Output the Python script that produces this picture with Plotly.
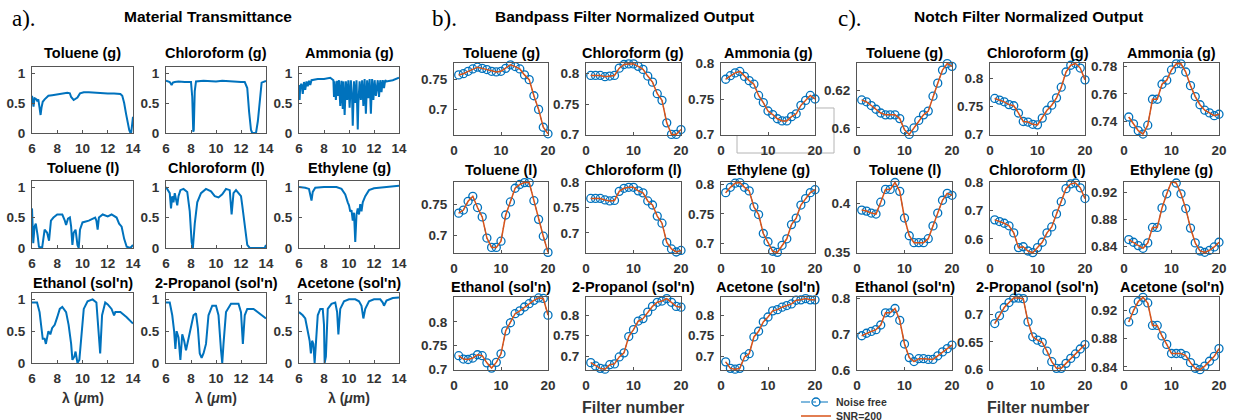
import plotly.graph_objects as go

W, H = 1233, 420

# ---------------- Panel a: transmittance spectra ----------------
wl_toluene_g = [6.0, 6.05, 6.12, 6.2, 6.3, 6.4, 6.5, 6.6, 6.68, 6.75, 6.85, 7.0, 7.3, 7.6, 8.0, 8.4, 8.8, 9.0, 9.1, 9.3,
                9.45, 9.6, 9.8, 10.1, 10.5, 11.0, 11.5, 12.0, 12.5, 13.0, 13.15, 13.3, 13.45, 13.6, 13.7, 13.8, 13.85, 13.92, 14.0]
T_toluene_g = [0.62, 0.55, 0.44, 0.58, 0.57, 0.54, 0.56, 0.42, 0.30, 0.42, 0.52, 0.56, 0.62, 0.63, 0.64, 0.65, 0.67, 0.66, 0.60, 0.55,
               0.57, 0.59, 0.66, 0.68, 0.68, 0.67, 0.66, 0.66, 0.66, 0.65, 0.62, 0.50, 0.32, 0.15, 0.05, 0.0, 0.0, 0.12, 0.27]

wl_chloroform_g = [6.0, 6.3, 6.45, 6.55, 6.7, 7.0, 7.5, 8.0, 8.1, 8.18, 8.22, 8.3, 8.4, 9.0, 9.5, 10.0, 10.5, 11.0, 11.5, 12.0,
                   12.3, 12.5, 12.65, 12.8, 12.9, 13.2, 13.35, 13.5, 13.65, 14.0]
T_chloroform_g = [0.87, 0.85, 0.80, 0.84, 0.85, 0.86, 0.85, 0.85, 0.60, 0.02, 0.05, 0.70, 0.86, 0.87, 0.86, 0.86, 0.87, 0.86, 0.86, 0.85,
                  0.85, 0.75, 0.35, 0.05, 0.0, 0.0, 0.20, 0.60, 0.84, 0.87]

wl_ammonia_g = [6.0, 6.05, 6.1, 6.2, 6.3, 6.4, 6.5, 6.6, 6.7, 6.8, 6.9, 7.0, 7.5, 8.0, 8.5, 8.75, 8.8, 8.85, 8.95, 9.05,
                9.1, 9.2, 9.3, 9.4, 9.5, 9.55, 9.65, 9.75, 9.85, 9.95, 10.05, 10.15, 10.25, 10.3, 10.4, 10.5, 10.6, 10.7, 10.75, 10.85,
                10.95, 11.05, 11.15, 11.25, 11.35, 11.45, 11.55, 11.65, 11.75, 11.85, 11.95, 12.05, 12.15, 12.3, 12.4, 12.5, 12.6, 12.7,
                12.8, 12.9, 13.0, 13.5, 14.0]
T_ammonia_g = [0.80, 0.55, 0.78, 0.82, 0.65, 0.85, 0.72, 0.86, 0.78, 0.87, 0.80, 0.88, 0.90, 0.90, 0.92, 0.88, 0.60, 0.86, 0.55, 0.87,
               0.62, 0.88, 0.45, 0.87, 0.40, 0.86, 0.30, 0.86, 0.55, 0.88, 0.42, 0.88, 0.55, 0.12, 0.86, 0.50, 0.88, 0.06, 0.50, 0.86,
               0.55, 0.88, 0.45, 0.90, 0.32, 0.88, 0.58, 0.90, 0.32, 0.90, 0.55, 0.88, 0.62, 0.88, 0.60, 0.88, 0.68, 0.88,
               0.75, 0.88, 0.86, 0.88, 0.92]

wl_toluene_l = [6.0, 6.05, 6.1, 6.2, 6.3, 6.45, 6.55, 6.8, 6.9, 7.0, 7.2, 7.35, 7.5, 7.7, 8.0, 8.4, 8.6, 8.7, 8.85, 9.0,
                9.1, 9.2, 9.3, 9.45, 9.6, 9.7, 9.8, 10.0, 10.5, 11.0, 11.1, 11.2, 11.3, 11.6, 12.0, 12.3, 12.7, 12.9, 13.1, 13.3,
                13.5, 13.8, 14.0]
T_toluene_l = [0.65, 0.30, 0.08, 0.35, 0.40, 0.20, 0.02, 0.0, 0.15, 0.30, 0.25, 0.12, 0.45, 0.50, 0.55, 0.55, 0.45, 0.38, 0.48, 0.50,
               0.35, 0.05, 0.25, 0.30, 0.05, 0.0, 0.30, 0.42, 0.45, 0.50, 0.45, 0.30, 0.50, 0.55, 0.52, 0.55, 0.50, 0.40, 0.35, 0.15,
               0.02, 0.0, 0.05]

wl_chloroform_l = [6.0, 6.15, 6.3, 6.4, 6.5, 6.6, 6.7, 6.8, 6.9, 7.0, 7.15, 7.4, 7.7, 7.9, 8.05, 8.15, 8.3, 8.5, 8.8, 9.2,
                   9.6, 9.9, 10.2, 10.5, 10.8, 11.1, 11.25, 11.4, 11.6, 11.8, 12.0, 12.1, 12.3, 12.5, 12.7, 13.5, 13.9, 14.0]
T_chloroform_l = [1.0, 0.95, 0.90, 0.65, 0.85, 0.75, 0.90, 0.80, 0.70, 0.85, 0.95, 0.97, 0.92, 0.60, 0.10, 0.0, 0.40, 0.75, 0.90, 0.97,
                  0.93, 0.85, 0.83, 0.88, 0.97, 0.95, 0.55, 0.90, 0.95, 0.90, 0.85, 0.70, 0.40, 0.05, 0.0, 0.0, 0.0, 0.05]

wl_ethylene_g = [6.0, 6.5, 6.8, 6.9, 7.0, 7.1, 7.3, 8.0, 9.0, 9.4, 9.7, 9.9, 10.0, 10.1, 10.2, 10.3, 10.4, 10.5, 10.6, 10.7,
                 10.8, 10.9, 11.0, 11.1, 11.3, 11.6, 12.0, 13.0, 14.0]
T_ethylene_g = [1.0, 0.99, 0.97, 0.85, 0.78, 0.92, 0.99, 1.0, 1.0, 0.97, 0.88, 0.75, 0.70, 0.60, 0.62, 0.45, 0.58, 0.10, 0.55, 0.65,
                0.55, 0.72, 0.60, 0.75, 0.85, 0.95, 0.98, 1.0, 1.02]

wl_ethanol = [6.0, 6.4, 6.6, 6.75, 6.85, 7.0, 7.1, 7.3, 7.45, 7.6, 7.8, 8.0, 8.2, 8.4, 8.7, 8.9, 9.1, 9.2, 9.35, 9.45,
              9.6, 9.75, 9.9, 10.1, 10.4, 10.8, 11.1, 11.25, 11.4, 11.55, 11.8, 12.0, 12.3, 12.5, 12.6, 13.0, 13.5, 14.0]
T_ethanol = [0.95, 0.95, 0.80, 0.55, 0.38, 0.38, 0.30, 0.50, 0.45, 0.55, 0.60, 0.72, 0.85, 0.88, 0.80, 0.60, 0.30, 0.05, 0.10, 0.18,
             0.0, 0.05, 0.45, 0.85, 0.97, 1.0, 0.95, 0.60, 0.15, 0.75, 0.95, 0.92, 0.85, 0.75, 0.80, 0.80, 0.72, 0.62]

wl_propanol = [6.0, 6.3, 6.5, 6.65, 6.75, 6.85, 7.0, 7.15, 7.3, 7.45, 7.6, 7.8, 8.0, 8.2, 8.4, 8.55, 8.7, 8.85, 9.0, 9.2,
               9.4, 9.7, 10.0, 10.2, 10.4, 10.5, 10.6, 10.8, 11.2, 11.8, 12.0, 12.15, 12.3, 12.5, 13.0, 13.5, 14.0]
T_propanol = [0.95, 0.95, 0.75, 0.50, 0.22, 0.50, 0.40, 0.05, 0.45, 0.35, 0.20, 0.40, 0.55, 0.75, 0.78, 0.55, 0.15, 0.08, 0.15, 0.30,
              0.75, 0.90, 0.90, 0.75, 0.20, 0.0, 0.30, 0.80, 0.93, 0.93, 0.80, 0.30, 0.75, 0.85, 0.85, 0.78, 0.70]

wl_acetone = [6.0, 6.3, 6.5, 6.7, 6.85, 6.95, 7.05, 7.15, 7.25, 7.35, 7.5, 7.7, 7.9, 8.0, 8.05, 8.15, 8.3, 8.6, 8.9, 9.05,
              9.15, 9.3, 9.6, 10.0, 10.5, 10.8, 11.0, 11.15, 11.3, 11.6, 12.0, 12.5, 12.7, 12.8, 13.0, 13.5, 14.0]
T_acetone = [0.80, 0.75, 0.70, 0.50, 0.35, 0.15, 0.35, 0.30, 0.0, 0.30, 0.75, 0.85, 0.85, 0.60, 0.0, 0.10, 0.85, 0.93, 0.95, 0.80,
             0.45, 0.85, 0.97, 1.0, 1.0, 0.97, 0.90, 0.70, 0.85, 0.97, 1.0, 1.0, 0.95, 0.90, 0.98, 1.02, 1.03]

# ---------------- Panels b / c: filter outputs ----------------
filters = list(range(1, 21))

bp_toluene_g = [0.758, 0.760, 0.764, 0.768, 0.771, 0.769, 0.767, 0.764, 0.763, 0.764, 0.769, 0.775, 0.772, 0.768, 0.758, 0.750, 0.723, 0.700, 0.670, 0.659]
bp_chloroform_g = [0.797, 0.797, 0.797, 0.795, 0.796, 0.797, 0.809, 0.815, 0.816, 0.816, 0.812, 0.807, 0.796, 0.786, 0.767, 0.756, 0.719, 0.700, 0.700, 0.708]
bp_ammonia_g = [0.778, 0.783, 0.787, 0.789, 0.782, 0.776, 0.771, 0.755, 0.745, 0.733, 0.728, 0.722, 0.719, 0.719, 0.725, 0.729, 0.741, 0.748, 0.755, 0.750]
bp_toluene_l = [0.736, 0.741, 0.755, 0.763, 0.745, 0.730, 0.696, 0.681, 0.681, 0.691, 0.733, 0.754, 0.776, 0.782, 0.785, 0.785, 0.756, 0.726, 0.699, 0.673]
bp_chloroform_l = [0.768, 0.768, 0.768, 0.765, 0.763, 0.764, 0.782, 0.788, 0.790, 0.790, 0.783, 0.779, 0.763, 0.755, 0.733, 0.719, 0.681, 0.668, 0.662, 0.665]
bp_ethylene_g = [0.786, 0.795, 0.802, 0.803, 0.795, 0.789, 0.762, 0.749, 0.717, 0.703, 0.687, 0.685, 0.697, 0.708, 0.732, 0.743, 0.765, 0.776, 0.786, 0.791]
bp_ethanol = [0.729, 0.722, 0.721, 0.724, 0.731, 0.729, 0.714, 0.703, 0.715, 0.733, 0.781, 0.798, 0.817, 0.823, 0.831, 0.838, 0.845, 0.850, 0.849, 0.814]
bp_propanol = [0.684, 0.676, 0.670, 0.668, 0.679, 0.681, 0.698, 0.708, 0.748, 0.765, 0.786, 0.792, 0.808, 0.822, 0.832, 0.835, 0.841, 0.832, 0.822, 0.820]
bp_acetone = [0.686, 0.670, 0.668, 0.670, 0.698, 0.706, 0.747, 0.761, 0.784, 0.796, 0.811, 0.814, 0.820, 0.824, 0.828, 0.837, 0.838, 0.841, 0.838, 0.838]

nf_toluene_g = [0.615, 0.614, 0.612, 0.610, 0.608, 0.607, 0.607, 0.607, 0.605, 0.599, 0.5965, 0.600, 0.604, 0.607, 0.609, 0.617, 0.624, 0.631, 0.6345, 0.633]
nf_chloroform_g = [0.764, 0.761, 0.758, 0.753, 0.751, 0.738, 0.723, 0.722, 0.718, 0.717, 0.729, 0.743, 0.752, 0.765, 0.784, 0.811, 0.823, 0.826, 0.818, 0.797]
nf_ammonia_g = [0.743, 0.738, 0.733, 0.7305, 0.737, 0.756, 0.756, 0.767, 0.770, 0.7775, 0.782, 0.782, 0.776, 0.766, 0.758, 0.752, 0.748, 0.746, 0.744, 0.745]
nf_toluene_l = [0.393, 0.392, 0.390, 0.389, 0.401, 0.414, 0.414, 0.421, 0.412, 0.385, 0.367, 0.360, 0.360, 0.360, 0.364, 0.377, 0.390, 0.403, 0.410, 0.408]
nf_chloroform_l = [0.667, 0.661, 0.655, 0.646, 0.621, 0.569, 0.572, 0.557, 0.551, 0.569, 0.588, 0.621, 0.642, 0.688, 0.731, 0.777, 0.794, 0.797, 0.780, 0.742]
nf_ethylene_g = [0.850, 0.846, 0.841, 0.837, 0.845, 0.868, 0.868, 0.897, 0.918, 0.936, 0.934, 0.918, 0.896, 0.867, 0.845, 0.833, 0.831, 0.834, 0.839, 0.846]
nf_ethanol = [0.695, 0.702, 0.707, 0.712, 0.725, 0.759, 0.759, 0.771, 0.738, 0.672, 0.634, 0.623, 0.631, 0.631, 0.629, 0.629, 0.639, 0.650, 0.659, 0.669]
nf_propanol = [0.683, 0.697, 0.712, 0.721, 0.729, 0.729, 0.728, 0.686, 0.659, 0.653, 0.649, 0.633, 0.614, 0.602, 0.602, 0.611, 0.620, 0.628, 0.637, 0.645]
nf_acetone = [0.904, 0.920, 0.933, 0.939, 0.931, 0.899, 0.899, 0.884, 0.872, 0.859, 0.859, 0.859, 0.856, 0.846, 0.838, 0.836, 0.841, 0.848, 0.855, 0.866]

names = ["Toluene (g)", "Chloroform (g)", "Ammonia (g)",
         "Toluene (l)", "Chloroform (l)", "Ethylene (g)",
         "Ethanol (sol'n)", "2-Propanol (sol'n)", "Acetone (sol'n)"]

a_wl = [wl_toluene_g, wl_chloroform_g, wl_ammonia_g, wl_toluene_l, wl_chloroform_l, wl_ethylene_g, wl_ethanol, wl_propanol, wl_acetone]
a_T = [T_toluene_g, T_chloroform_g, T_ammonia_g, T_toluene_l, T_chloroform_l, T_ethylene_g, T_ethanol, T_propanol, T_acetone]
bp = [bp_toluene_g, bp_chloroform_g, bp_ammonia_g, bp_toluene_l, bp_chloroform_l, bp_ethylene_g, bp_ethanol, bp_propanol, bp_acetone]
nf = [nf_toluene_g, nf_chloroform_g, nf_ammonia_g, nf_toluene_l, nf_chloroform_l, nf_ethylene_g, nf_ethanol, nf_propanol, nf_acetone]

# axis ranges / ticks (axis settings)
bp_yrange = [[0.657, 0.778], [0.699, 0.8175], [0.699, 0.801],
             [0.672, 0.786], [0.660, 0.8005], [0.684, 0.804],
             [0.699, 0.852], [0.666, 0.845], [0.666, 0.845]]
bp_yticks = [[0.7, 0.75], [0.7, 0.75, 0.8], [0.7, 0.75, 0.8],
             [0.7, 0.75], [0.7, 0.75, 0.8], [0.7, 0.75, 0.8],
             [0.7, 0.75, 0.8], [0.7, 0.75, 0.8], [0.7, 0.75, 0.8]]
nf_yrange = [[0.5962, 0.6348], [0.699, 0.827], [0.7298, 0.7826],
             [0.3495, 0.4215], [0.550, 0.8005], [0.830, 0.9355],
             [0.5995, 0.803], [0.599, 0.731], [0.8355, 0.9395]]
nf_yticks = [[0.6, 0.62], [0.7, 0.75, 0.8], [0.74, 0.76, 0.78],
             [0.35, 0.4], [0.6, 0.7, 0.8], [0.84, 0.88, 0.92],
             [0.6, 0.7, 0.8], [0.6, 0.65, 0.7], [0.84, 0.88, 0.92]]

# ---------------- layout geometry (pixels of the 1233x420 canvas) ----------------
a_cols = [(32, 133), (166, 266), (299, 399)]
a_rows = [(67, 133), (181, 248), (293, 363)]
a_title_y = [53, 168, 283]
b_cols = [(454, 548), (586, 681), (721, 815)]
c_cols = [(857, 952), (990, 1085), (1124, 1219)]
bc_rows = [(63, 135), (182, 253), (297, 370)]
bc_title_y = [53, 170, 287]

BLUE = '#0072BD'
ORANGE = '#D95319'
FONT = 'Arial, Liberation Sans, sans-serif'
TICKFONT = dict(family=FONT, size=13.5, color='#333333', weight='bold')


def xdom(c):
    return [c[0] / W, c[1] / W]


def ydom(r):
    return [1 - r[1] / H, 1 - r[0] / H]


def fmt(v):
    s = ('%.3f' % v).rstrip('0').rstrip('.')
    return s


fig = go.Figure()
layout_axes = {}
annotations = []
counter = [0]


def new_axes(col, row, xr, xt, yr, yt):
    counter[0] += 1
    n = counter[0]
    sfx = '' if n == 1 else str(n)
    common = dict(showline=True, mirror=True, linecolor='#555555', linewidth=1,
                  ticks='inside', ticklen=3, tickcolor='#555555', showgrid=False,
                  zeroline=False, tickfont=TICKFONT, fixedrange=True, automargin=False)
    layout_axes['xaxis' + sfx] = dict(domain=xdom(col), anchor='y' + sfx, range=xr,
                                      tickmode='array', tickvals=xt, ticktext=[fmt(v) for v in xt],
                                      ticklabelstandoff=3, **common)
    layout_axes['yaxis' + sfx] = dict(domain=ydom(row), anchor='x' + sfx, range=yr,
                                      tickmode='array', tickvals=yt, ticktext=[fmt(v) for v in yt],
                                      ticklabelstandoff=3, **common)
    return 'x' + sfx, 'y' + sfx


def add_title(text, col, ypx):
    annotations.append(dict(text='<b>%s</b>' % text, xref='paper', yref='paper',
                            x=(col[0] + col[1]) / 2 / W, y=1 - ypx / H, xanchor='center',
                            yanchor='middle', showarrow=False,
                            font=dict(family=FONT, size=14.5, color='black')))


# panel a
for i in range(9):
    r, c = divmod(i, 3)
    xa, ya = new_axes(a_cols[c], a_rows[r], [6, 14], [6, 8, 10, 12, 14], [0, 1.1], [0, 0.5, 1])
    fig.add_trace(go.Scatter(x=a_wl[i], y=a_T[i], mode='lines', line=dict(color=BLUE, width=2),
                             xaxis=xa, yaxis=ya, showlegend=False, hoverinfo='skip'))
    add_title(names[i], a_cols[c], a_title_y[r])

# panels b and c
for cols, data, yranges, yticks in [(b_cols, bp, bp_yrange, bp_yticks), (c_cols, nf, nf_yrange, nf_yticks)]:
    for i in range(9):
        r, c = divmod(i, 3)
        xa, ya = new_axes(cols[c], bc_rows[r], [0, 20], [0, 10, 20], yranges[i], yticks[i])
        first = (cols is b_cols and i == 0)
        fig.add_trace(go.Scatter(x=filters, y=data[i], mode='lines+markers', name='Noise free',
                                 line=dict(color=BLUE, width=1, dash='dashdot'),
                                 marker=dict(symbol='circle-open', size=8, color=BLUE, line=dict(width=1.3)),
                                 xaxis=xa, yaxis=ya, showlegend=first, legend='legend',
                                 cliponaxis=False, hoverinfo='skip'))
        fig.add_trace(go.Scatter(x=filters, y=data[i], mode='lines', name='SNR=200',
                                 line=dict(color=ORANGE, width=1.5),
                                 xaxis=xa, yaxis=ya, showlegend=first, legend='legend2',
                                 cliponaxis=False, hoverinfo='skip'))
        add_title(names[i], cols[c], bc_title_y[r])

# panel headings
def heading(text, xc, ypx, size=15.5, family=FONT, bold=True, anchor='center'):
    annotations.append(dict(text=('<b>%s</b>' % text) if bold else text, xref='paper', yref='paper',
                            x=xc / W, y=1 - ypx / H, xanchor=anchor, yanchor='middle', showarrow=False,
                            font=dict(family=family, size=size, color='black')))


heading('a).', 10, 19, size=23, family='Liberation Serif, Times New Roman, serif', bold=False, anchor='left')
heading('Material Transmittance', 208, 17)
heading('b).', 430, 19, size=23, family='Liberation Serif, Times New Roman, serif', bold=False, anchor='left')
heading('Bandpass Filter Normalized Output', 624, 17)
heading('c).', 836, 19, size=23, family='Liberation Serif, Times New Roman, serif', bold=False, anchor='left')
heading('Notch Filter Normalized Output', 1028, 17)

for col in a_cols:
    annotations.append(dict(text='<b>λ (<i>μ</i>m)</b>', xref='paper', yref='paper',
                            x=(col[0] + col[1]) / 2 / W, y=1 - 398 / H, xanchor='center', yanchor='middle',
                            showarrow=False, font=dict(family=FONT, size=14, color='#333333')))
for col in (b_cols[1], c_cols[1]):
    annotations.append(dict(text='<b>Filter number</b>', xref='paper', yref='paper',
                            x=(col[0] + col[1]) / 2 / W, y=1 - 407 / H, xanchor='center', yanchor='middle',
                            showarrow=False, font=dict(family=FONT, size=16, color='#333333')))

# stray grey frame visible in the original figure
pts = [(815, 108), (834, 108), (834, 153), (737, 153), (737, 135)]
path = 'M ' + ' L '.join('%.5f,%.5f' % (x / W, 1 - y / H) for x, y in pts)

LEGFONT = dict(family=FONT, size=10.5, color='#333333', weight='bold')
fig.update_layout(
    width=W, height=H, autosize=False,
    margin=dict(l=0, r=0, t=0, b=0, autoexpand=False),
    paper_bgcolor='white', plot_bgcolor='white',
    annotations=annotations,
    shapes=[dict(type='path', path=path, xref='paper', yref='paper',
                 line=dict(color='#b4b4b4', width=1), layer='below')],
    legend=dict(x=796 / W, y=1 - 402 / H, xanchor='left', yanchor='middle', font=LEGFONT,
                bgcolor='rgba(0,0,0,0)', itemwidth=30),
    legend2=dict(x=796 / W, y=1 - 416 / H, xanchor='left', yanchor='middle', font=LEGFONT,
                 bgcolor='rgba(0,0,0,0)', itemwidth=30),
    **layout_axes
)

page_js = ("document.documentElement.style.margin='0';document.body.style.margin='0';"
           "document.body.style.padding='0';document.body.style.overflow='hidden';")

fig.write_html('out.html', config={'displayModeBar': False}, post_script=page_js)
